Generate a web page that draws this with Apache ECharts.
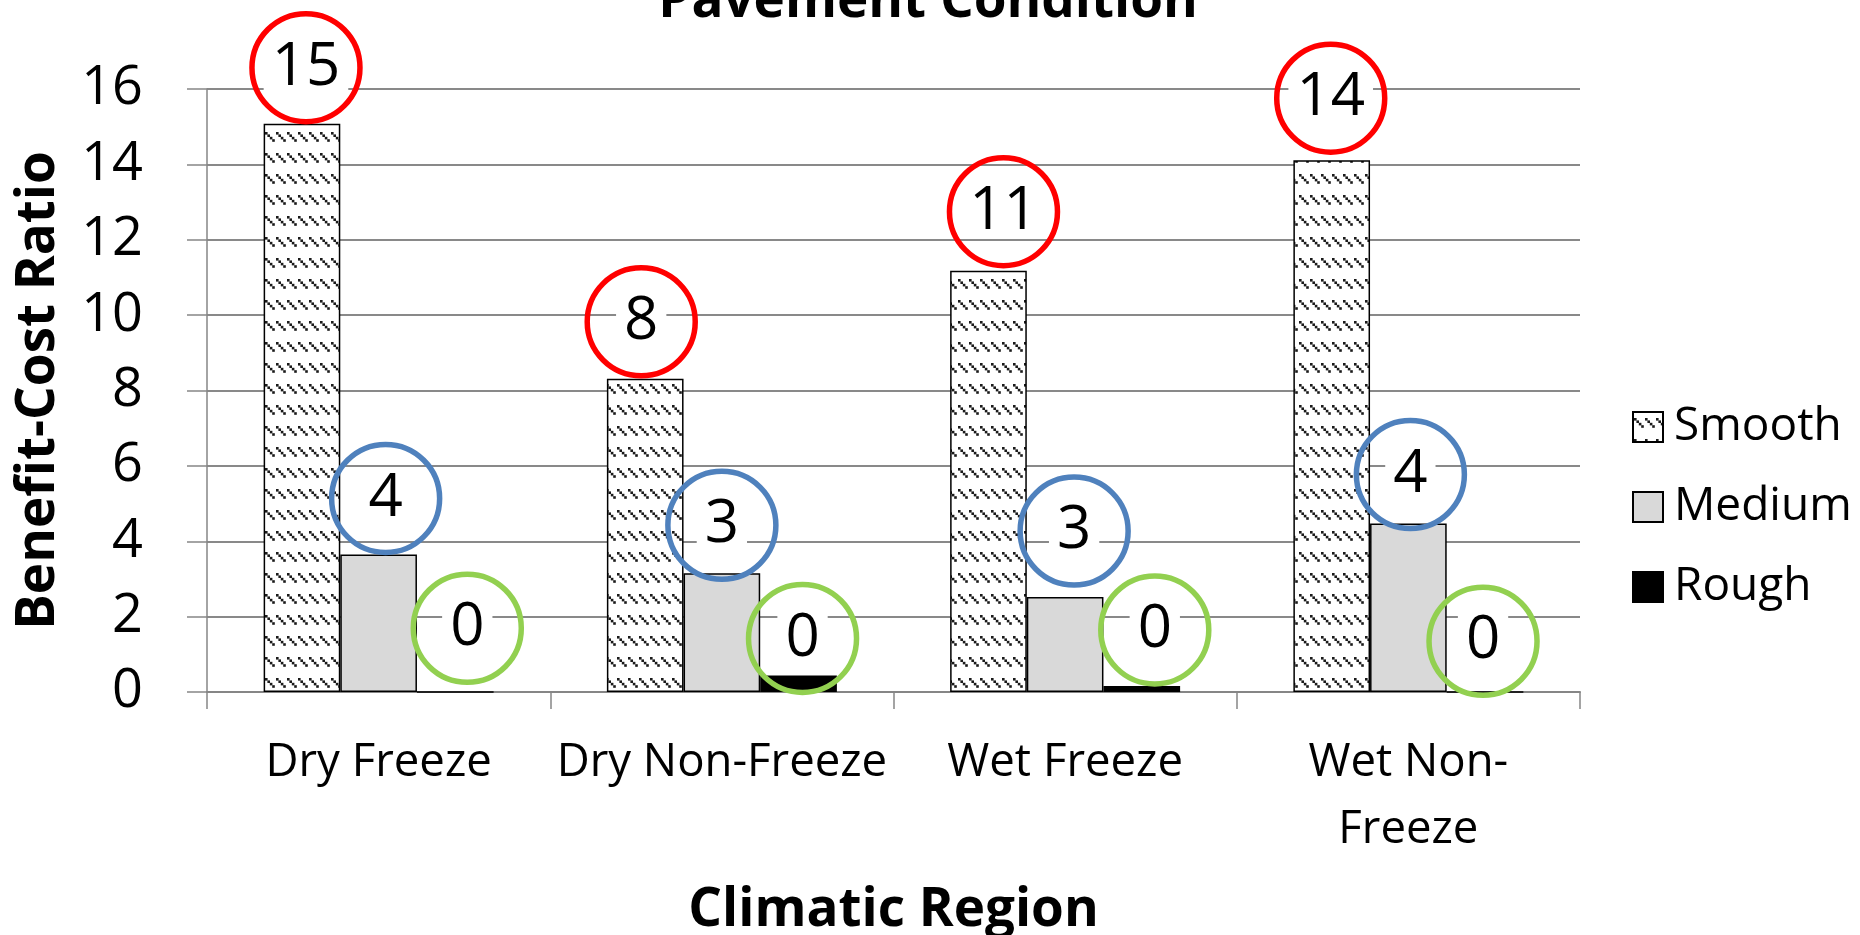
<!DOCTYPE html>
<html>
<head>
<meta charset="utf-8">
<script src="https://cdn.jsdelivr.net/npm/echarts@6/dist/echarts.min.js"></script>
<style>
  html, body { margin: 0; padding: 0; background: #fff; }
  #chart { width: 1860px; height: 935px; }
</style>
</head>
<body>
<div id="chart"></div>
<script>
// ---- data ----
const categories = ['Dry Freeze', 'Dry Non-Freeze', 'Wet Freeze', 'Wet Non-\nFreeze'];
const seriesNames = ['Smooth', 'Medium', 'Rough'];
const smooth = [15.08, 8.31, 11.18, 14.11];
const medium = [3.65, 3.15, 2.52, 4.47];
const rough = [0, 0.44, 0.16, 0];
const yTicks = [0, 2, 4, 6, 8, 10, 12, 14, 16];

// ---- annotation circle nudges (layout only, px) ----
const labelNudge = [
  [[4, 1], [-4, 0], [15, -2], [-1, -5]],
  [[7, 1], [0, 9], [9, -9], [2, 8]],
  [[12, -6], [4, 20], [13, 1], [-2, 7]]
];

// ---- pattern for "Smooth" ----
function makePattern() {
  const c = document.createElement('canvas');
  c.width = 11; c.height = 21;
  const ctx = c.getContext('2d');
  ctx.fillStyle = '#ffffff';
  ctx.fillRect(0, 0, c.width, c.height);
  ctx.fillStyle = '#1a1a1a';
  for (let i = 0; i < 4; i++) {
    ctx.fillRect(1 + i * 2.4, 6 + i * 2.4, 2.6, 2.6);
  }
  return c;
}
const smoothFill = { image: makePattern(), repeat: 'repeat' };

const font = 'Open Sans';
const circleColors = ['#FF0000', '#4F81BD', '#92D050'];
const fills = [smoothFill, '#D9D9D9', '#000000'];
const values = [smooth, medium, rough];

function labelFor(i) {
  return {
    show: true,
    position: 'top',
    distance: 3,
    formatter: p => '{t|' + Math.round(p.value) + '}',
    width: 108,
    padding: [28, 0, 28, 0],
    borderColor: circleColors[i],
    borderWidth: 5.5,
    borderRadius: 56,
    rich: {
      t: {
        fontFamily: font,
        fontSize: 60,
        color: '#000',
        lineHeight: 52,
        height: 52,
        align: 'center',
        backgroundColor: '#fff',
        padding: [0, 8]
      }
    }
  };
}

const series = seriesNames.map((name, i) => ({
  name: name,
  type: 'bar',
  data: values[i].map((v, j) => ({ value: v, label: { offset: labelNudge[i][j] } })),
  barGap: '0%',
  barCategoryGap: '33%',
  itemStyle: { color: fills[i], borderColor: '#000', borderWidth: 1.5 },
  label: labelFor(i),
  emphasis: { disabled: true }
}));

const chart = echarts.init(document.getElementById('chart'), null, { renderer: 'canvas', width: 1860, height: 935 });
chart.setOption({
  animation: false,
  backgroundColor: '#fff',
  title: {
    text: 'Pavement Condition',
    left: 923, textAlign: 'center',
    top: -30,
    textStyle: { fontFamily: font, fontWeight: 'bold', fontSize: 53, color: '#000' }
  },
  grid: { left: 207, width: 1373, top: 89, height: 603, containLabel: false, outerBoundsMode: 'none' },
  legend: {
    orient: 'vertical',
    left: 1627,
    top: 396,
    itemWidth: 30,
    itemHeight: 30,
    itemGap: 28,
    icon: 'rect',
    data: seriesNames,
    textStyle: { fontFamily: font, fontSize: 46, color: '#000', lineHeight: 52, padding: [0, 0, 0, 6] }
  },
  xAxis: {
    type: 'category',
    data: categories,
    name: 'Climatic Region',
    nameLocation: 'middle',
    nameGap: 192,
    nameTextStyle: { fontFamily: font, fontWeight: 'bold', fontSize: 53, color: '#000' },
    axisLine: { show: true, lineStyle: { color: '#868686', width: 2 } },
    axisTick: { show: true, length: 17, lineStyle: { color: '#868686', width: 1.5 } },
    axisLabel: { fontFamily: font, fontSize: 45.5, color: '#000', margin: 38, lineHeight: 67, interval: 0 }
  },
  yAxis: {
    type: 'value',
    min: 0, max: 16, interval: 2,
    name: 'Benefit-Cost Ratio',
    nameLocation: 'middle',
    nameGap: 142,
    nameRotate: 90,
    nameTextStyle: { fontFamily: font, fontWeight: 'bold', fontSize: 53, color: '#000' },
    axisLine: { show: true, lineStyle: { color: '#868686', width: 1.5 } },
    axisTick: { show: true, length: 20, lineStyle: { color: '#868686', width: 1.5 } },
    axisLabel: {
      fontFamily: font, fontSize: 54, color: '#000', margin: 64,
      formatter: v => yTicks.includes(v) ? String(v) : ''
    },
    splitLine: { show: true, lineStyle: { color: '#898989', width: 2 } }
  },
  series: series
});
</script>
</body>
</html>
